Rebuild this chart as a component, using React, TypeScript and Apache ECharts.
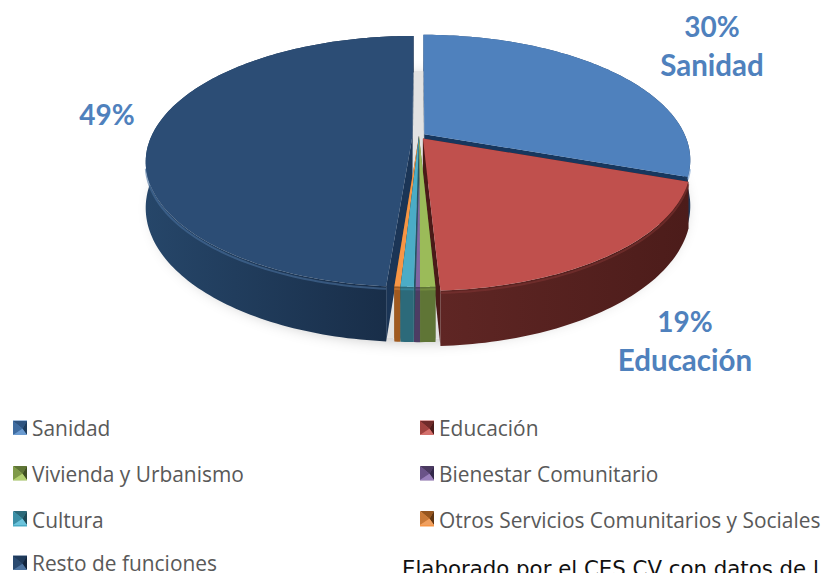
import React, { useEffect, useRef } from "react";
import * as echarts from "echarts";

const categories = ["Sanidad", "Educación", "Vivienda y Urbanismo", "Bienestar Comunitario", "Cultura", "Otros Servicios Comunitarios y Sociales", "Resto de funciones"];
const values = [30.4, 18.8, 0.75, 0.3, 0.65, 0.3, 48.8];
const topColors = ["#4f81bd", "#c0504d", "#9bbb59", "#8064a2", "#4bacc6", "#f79646", "#2c4d75"];
const wallLeft = ["#2f5480", "#5f2624", "#5f7536", "#4d3c63", "#2c6a7a", "#a05a20", "#264669"];
const wallRight = ["#213a5a", "#4c1c1a", "#5f7536", "#4d3c63", "#2c6a7a", "#a05a20", "#172b45"];
const faceColors = ["#17375e", "#4a1a18", "#4f612c", "#3f3052", "#245663", "#7f4a1c", "#1b3556"];
const bevelColors = ["#6c98cc", "#7d3432", "#7e9a45", "#6a5288", "#3b8fa5", "#d07c38", "#4a6f9c"];
const swatchTop = ["#2f5480", "#6f2b2a", "#5f7536", "#4a3a60", "#2c6a7a", "#96561f", "#1f3a5a"];
const swatchLeft = ["#3f6ca0", "#a04340", "#7f9a48", "#6a5388", "#3c8fa6", "#c97a38", "#2a4a70"];
const swatchRight = ["#1e3c5c", "#4c1c1a", "#3f4e22", "#33284a", "#1e4a56", "#5f3512", "#12243c"];
const swatchBottom = ["#6b9bd0", "#d4716d", "#b2d070", "#9a80bc", "#6cc4dc", "#f0a060", "#4d739f"];
const drawOrder = [0, 6, 1, 5, 2, 3, 4];
const legendLeft = [0, 2, 4];
const legendRight = [1, 3, 5];
const legendLast = [6];
const dataLabels = [
  { lines: ["30%", "Sanidad"], x: 712, y: 26 },
  { lines: ["19%", "Educación"], x: 685, y: 321 },
  { lines: ["49%"], x: 107, y: 114 },
];
const sourceNote = "Elaborado por el CES CV con datos de l";

const X0 = 419, Y0 = 136, A = 261, B = 120.3, K = 0.203, H = 44, EXPLODE = 0.025;
const total = values.reduce((s, v) => s + v, 0);
const starts: number[] = [];
values.reduce((s, v, i) => { starts[i] = s; return s + v; }, 0);

function pt(theta: number, ex: number, ey: number, r: number, z: number) {
  const u = r * Math.sin(theta) + ex;
  const v = -r * Math.cos(theta) + ey;
  const den = 1 - K * v;
  return [X0 + (A * u) / den, Y0 + (B * v) / den + (z * H) / den];
}
function arc(a1: number, a2: number, ex: number, ey: number, z: number) {
  const n = Math.max(2, Math.ceil(Math.abs(a2 - a1) / 0.02));
  const out: number[][] = [];
  for (let i = 0; i <= n; i++) out.push(pt(a1 + ((a2 - a1) * i) / n, ex, ey, 1, z));
  return out;
}

function makeRender(idx: number) {
  return (_p: any, api: any) => {
    const val = api.value(0) as number;
    const a1 = (starts[idx] / total) * Math.PI * 2;
    const a2 = a1 + (val / total) * Math.PI * 2;
    const mid = (a1 + a2) / 2;
    const small = val < 2;
    const d = small ? 0 : EXPLODE;
    const ex = d * Math.sin(mid), ey = -d * Math.cos(mid);
    const apexT = pt(0, ex, ey, 0, 0), apexB = pt(0, ex, ey, 0, 1);
    const top = arc(a1, a2, ex, ey, 0);
    const bot = arc(a1, a2, ex, ey, 1);
    const face = (a: number) => {
      const p = pt(a, ex, ey, 1, 0), q = pt(a, ex, ey, 1, 1);
      return { type: "polygon", shape: { points: [apexT, p, q, apexB] }, style: { fill: faceColors[idx] }, silent: true };
    };
    const bevel = top.map((p) => [p[0], p[1] + 2.5]).filter((p) => p[1] > Y0 + 32);
    const children: any[] = [
      face(a1),
      face(a2),
      {
        type: "polygon",
        shape: { points: top.concat(bot.slice().reverse()) },
        style: {
          fill: new echarts.graphic.LinearGradient(0, 0, 1, 0, [
            { offset: 0, color: wallLeft[idx] },
            { offset: 1, color: wallRight[idx] },
          ]),
        },
        silent: true,
      },
    ];
    if (bevel.length > 1) {
      children.push({ type: "polyline", shape: { points: bevel }, style: { stroke: bevelColors[idx], lineWidth: 2, fill: "none", opacity: 0.6 }, silent: true });
    }
    children.push({
      type: "polygon",
      shape: { points: [apexT].concat(top) },
      style: { fill: topColors[idx] },
      silent: true,
    });
    return { type: "group", children };
  };
}

function shadowRender() {
  const ring = arc(0, Math.PI * 2, 0, 0, 0.9).map((p) => [p[0], p[1] + 2]);
  return {
    type: "polygon",
    shape: { points: ring },
    style: { fill: "#e2e2e2", shadowBlur: 14, shadowColor: "rgba(0,0,0,0.22)", shadowOffsetY: 4 },
    silent: true,
  };
}

function swatch(i: number, x: number, y: number) {
  const s = 14, cx = x + s * 0.68, cy = y + s * 0.55;
  const tri = (pts: number[][], fill: string) => ({ type: "polygon", z: 20, silent: true, shape: { points: pts }, style: { fill } });
  return [
    tri([[x, y], [x + s, y], [cx, cy]], swatchTop[i]),
    tri([[x, y], [cx, cy], [x, y + s]], swatchLeft[i]),
    tri([[x + s, y], [x + s, y + s], [cx, cy]], swatchRight[i]),
    tri([[x, y + s], [x + s, y + s], [cx, cy]], swatchBottom[i]),
  ];
}

export default function App() {
  const ref = useRef<HTMLDivElement>(null);
  useEffect(() => {
    document.body.style.margin = "0";
    const chart = echarts.init(ref.current!, undefined, { renderer: "svg" });
    const legendText = { fontFamily: "Open Sans", fontSize: 20.9, color: "#595959", lineHeight: 20 };
    const base = { orient: "vertical", top: 417, itemWidth: 14, itemHeight: 14, itemGap: 25, icon: "rect", textStyle: legendText, padding: 0, selectedMode: false };
    const graphics: any[] = [];
    legendLeft.concat(legendLast).forEach((c, r) => graphics.push(...swatch(c, 13, 421 + r * 45)));
    legendRight.forEach((c, r) => graphics.push(...swatch(c, 420, 421 + r * 45)));
    dataLabels.forEach((l) =>
      l.lines.forEach((t, j) =>
        graphics.push({
          type: "text",
          x: l.x,
          y: l.y + j * 38,
          z: 15,
          style: { text: t, fontFamily: "Lato", fontWeight: "bold", fontSize: j === 0 ? 28 : 29.5, fill: "#4f81bd", textAlign: "center", textVerticalAlign: "middle" },
        })
      )
    );
    graphics.push({
      type: "text",
      x: 402,
      y: 568,
      z: 15,
      style: { text: sourceNote, fontFamily: "DejaVu Sans", fontSize: 21.3, fill: "#111111", textAlign: "left", textVerticalAlign: "middle" },
    });
    chart.setOption({
      animation: false,
      backgroundColor: "#ffffff",
      legend: [
        { ...base, left: 13, data: legendLeft.map((i) => categories[i]) },
        { ...base, left: 420, data: legendRight.map((i) => categories[i]) },
        { ...base, left: 13, top: 552, data: legendLast.map((i) => categories[i]) },
      ],
      graphic: graphics,
      series: [
        { type: "custom", name: "sombra", coordinateSystem: "none", z: 1, data: [[0]], renderItem: shadowRender, silent: true },
        ...drawOrder.map((i, o) => ({
          type: "custom",
          name: categories[i],
          coordinateSystem: "none",
          z: 2 + o,
          itemStyle: { color: topColors[i] },
          data: [[values[i]]],
          renderItem: makeRender(i),
          silent: true,
        })),
      ],
    });
    return () => chart.dispose();
  }, []);
  return <div ref={ref} style={{ position: "fixed", left: 0, top: 0, width: 822, height: 573, overflow: "hidden" }} />;
}
